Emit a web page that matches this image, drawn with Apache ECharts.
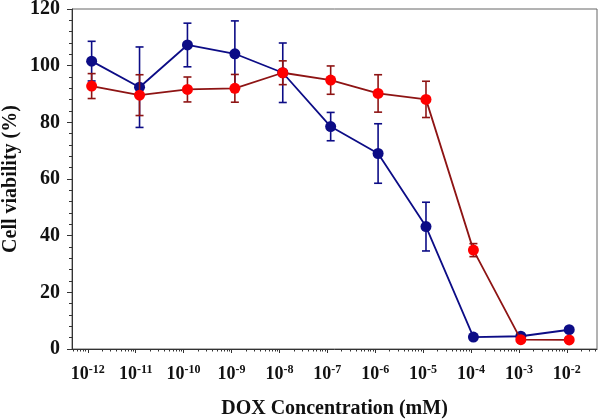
<!DOCTYPE html>
<html>
<head>
<meta charset="utf-8">
<script src="https://cdn.jsdelivr.net/npm/echarts@6/dist/echarts.min.js"></script>
<style>html,body{margin:0;padding:0;background:#fff}#c{width:600px;height:419px}</style>
</head>
<body>
<div id="c"></div>
<script>
var doseLog = [-11.92, -10.92, -9.92, -8.93, -7.93, -6.93, -5.94, -4.94, -3.95, -2.96, -1.95];
// series A (blue)
var blueMean = [101.6, 92.4, 107.3, 104.2, 97.5, 78.5, 69.0, 43.2, 4.2, 4.5, 6.8];
var blueErr  = [7.0, 14.2, 7.7, 11.6, 10.5, 5.0, 10.5, 8.6, 0, 0, 0];
// series B (red)
var redMean = [92.8, 89.6, 91.6, 92.0, 97.5, 94.9, 90.2, 88.1, 34.9, 3.3, 3.2];
var redErr  = [4.4, 7.2, 4.4, 4.9, 4.2, 5.0, 6.6, 6.4, 2.3, 0, 0];
// x tick labels (decade exponents)
var decadeExp = [-12, -11, -10, -9, -8, -7, -6, -5, -4, -3, -2];
var yTicks = [0, 20, 40, 60, 80, 100, 120];

var FONT = "'Liberation Serif','Times New Roman',serif";
var xMin = -12.33, xMax = -1.37;

var minorVals = [];
for (var n = -13; n <= -2; n++) {
  for (var k = 2; k <= 9; k++) {
    var v = n + Math.log10(k);
    if (v > xMin && v < xMax) minorVals.push(v);
  }
}

function pts(x, y) { return x.map(function (v, i) { return [v, y[i]]; }); }
function errData(x, m, e) { return x.map(function (v, i) { return [v, m[i] - e[i], m[i] + e[i]]; }).filter(function (d) { return d[2] > d[1]; }); }

function errSeries(data, color, z) {
  return {
    type: 'custom', xAxisIndex: 0, yAxisIndex: 0, z: z, silent: true,
    data: data,
    renderItem: function (params, api) {
      var lo = api.coord([api.value(0), api.value(1)]);
      var hi = api.coord([api.value(0), api.value(2)]);
      var w = 4;
      var st = { stroke: color, lineWidth: 1.6, fill: null };
      return {
        type: 'group',
        children: [
          { type: 'line', shape: { x1: lo[0], y1: lo[1], x2: hi[0], y2: hi[1] }, style: st },
          { type: 'line', shape: { x1: lo[0] - w, y1: lo[1], x2: lo[0] + w, y2: lo[1] }, style: st },
          { type: 'line', shape: { x1: hi[0] - w, y1: hi[1], x2: hi[0] + w, y2: hi[1] }, style: st }
        ]
      };
    }
  };
}

var chart = echarts.init(document.getElementById('c'), null, { renderer: 'canvas' });
chart.setOption({
  animation: false,
  backgroundColor: '#fff',
  grid: { left: 72, right: 3, top: 9, bottom: 70, show: true, borderColor: '#666', borderWidth: 1, containLabel: false, outerBoundsMode: 'none' },
  xAxis: [{
    type: 'value', min: xMin, max: xMax,
    name: 'DOX Concentration (mM)', nameLocation: 'middle', nameGap: 50, nameMoveOverlap: false,
    nameTextStyle: { fontFamily: FONT, fontWeight: 'bold', fontSize: 20, color: '#111' },
    axisLine: { show: true, lineStyle: { color: '#333', width: 1 } },
    axisTick: { show: true, length: 4, customValues: decadeExp, lineStyle: { color: '#333' } },
    splitLine: { show: false },
    axisLabel: {
      customValues: decadeExp, margin: 15,
      formatter: function (v) { return '{b|10}{s|' + Math.round(v) + '}'; },
      rich: {
        b: { fontFamily: FONT, fontWeight: 'bold', fontSize: 18, lineHeight: 20, color: '#111' },
        s: { fontFamily: FONT, fontWeight: 'bold', fontSize: 12, lineHeight: 12, verticalAlign: 'top', color: '#111' }
      }
    }
  }, {
    type: 'value', min: xMin, max: xMax, position: 'bottom',
    axisLine: { show: false },
    axisTick: { show: true, length: 2.5, customValues: minorVals, lineStyle: { color: '#333' } },
    axisLabel: { show: false },
    splitLine: { show: false }
  }],
  yAxis: {
    type: 'value', min: 0, max: 120, interval: 20,
    name: 'Cell viability (%)', nameLocation: 'middle', nameGap: 51, nameRotate: 90, nameMoveOverlap: false,
    nameTextStyle: { fontFamily: FONT, fontWeight: 'bold', fontSize: 20, color: '#111' },
    axisLine: { show: true, lineStyle: { color: '#333', width: 1 } },
    axisTick: { show: true, length: 5, lineStyle: { color: '#333' } },
    minorTick: { show: true, splitNumber: 5, length: 3, lineStyle: { color: '#333' } },
    splitLine: { show: false },
    axisLabel: {
      customValues: yTicks, margin: 12,
      fontFamily: FONT, fontWeight: 'bold', fontSize: 20, color: '#111'
    }
  },
  series: [
    errSeries(errData(doseLog, blueMean, blueErr), '#0c0c86', 2),
    {
      type: 'line', z: 3, data: pts(doseLog, blueMean), symbol: 'circle', symbolSize: 11,
      lineStyle: { color: '#0c0c86', width: 1.8 }, itemStyle: { color: '#0c0c86' }
    },
    errSeries(errData(doseLog, redMean, redErr), '#8e1414', 4),
    {
      type: 'line', z: 5, data: pts(doseLog, redMean), symbol: 'circle', symbolSize: 11,
      lineStyle: { color: '#8e1414', width: 1.8 }, itemStyle: { color: '#ff0000' }
    }
  ]
});
</script>
</body>
</html>
